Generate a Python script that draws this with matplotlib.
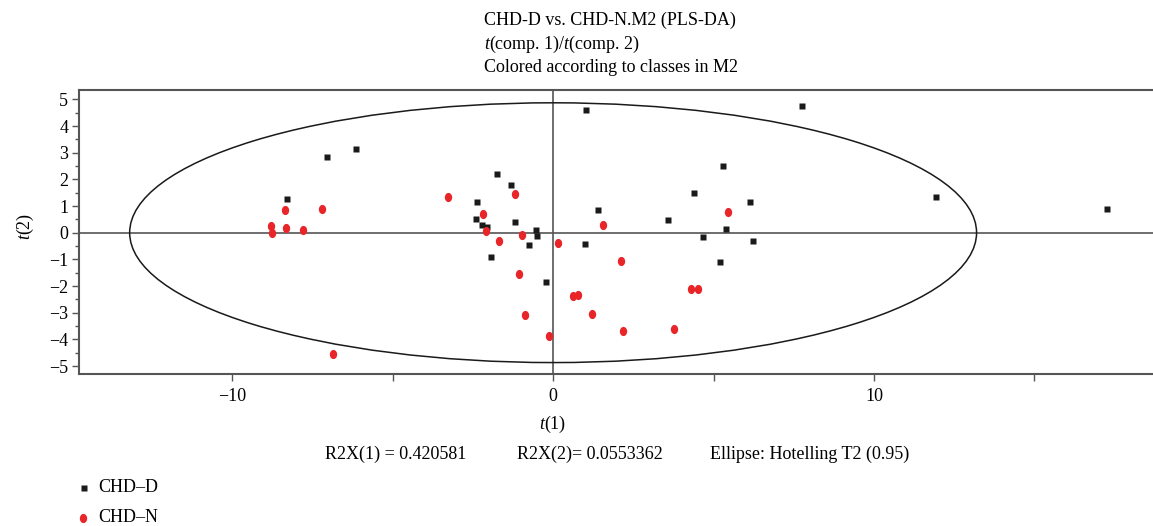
import numpy as np
import matplotlib
matplotlib.use("Agg")
import matplotlib.pyplot as plt
from matplotlib.patches import Ellipse
from matplotlib.path import Path

# ---- data ----
chd_d_t1 = [-7.06, -6.16, -8.30, 1.01, 7.77, -1.76, -1.30, -2.36, -2.39, -2.23, -2.07,
            -1.19, -0.54, -0.49, -0.74, -1.95, -0.21, 0.98, 1.39, 3.59, 4.38, 5.31,
            6.15, 5.40, 4.66, 6.24, 5.21, 11.94, 17.27]
chd_d_t2 = [2.83, 3.13, 1.26, 4.59, 4.74, 2.19, 1.78, 1.14, 0.50, 0.28, 0.21,
            0.39, 0.10, -0.14, -0.47, -0.92, -1.86, -0.43, 0.84, 0.46, 1.48, 2.49,
            1.14, 0.13, -0.17, -0.32, -1.11, 1.33, 0.88]
chd_n_t1 = [-8.80, -8.75, -8.37, -8.34, -7.80, -7.20, -3.29, -6.85, -1.19, -2.20,
            -2.09, -1.68, -0.98, -1.07, -0.87, -0.14, 0.15, 0.62, 0.78, 1.21, 1.54,
            2.12, 2.18, 3.77, 4.29, 4.51, 5.45]
chd_n_t2 = [0.25, 0.00, 0.84, 0.18, 0.10, 0.88, 1.35, -4.55, 1.45, 0.71,
            0.08, -0.31, -0.09, -1.56, -3.09, -3.89, -0.37, -2.39, -2.35, -3.06, 0.29,
            -1.07, -3.70, -3.60, -2.12, -2.10, 0.78]
ellipse_a = 13.2
ellipse_b = 4.87
x_ticks_major = [-10, 0, 10]
x_ticks_minor = [-5, 5, 15]
y_ticks = [-5, -4, -3, -2, -1, 0, 1, 2, 3, 4, 5]
title_lines = ["CHD-D vs. CHD-N.M2 (PLS-DA)",
               r"$\it{t}$(comp. 1)/$\it{t}$(comp. 2)",
               "Colored according to classes in M2"]
class_labels = ["CHD\u2013D", "CHD\u2013N"]

plt.rcParams['font.family'] = ['Liberation Serif', 'DejaVu Serif']
plt.rcParams['mathtext.fontset'] = 'custom'
plt.rcParams['mathtext.it'] = 'Liberation Serif:italic'
plt.rcParams['mathtext.rm'] = 'Liberation Serif'

FS = 13
W, H = 1153, 526
fig = plt.figure(figsize=(W / 100, H / 100), dpi=100)
ax = fig.add_axes([79.3 / W, 1 - 374.3 / H, (1153 - 79.3) / W, (374.3 - 90) / H])

ax.set_xlim(-14.77, 18.7)
ax.set_ylim(-5.31, 5.35)

spine_col = '#555555'
for s in ['left', 'top', 'bottom']:
    ax.spines[s].set_color(spine_col)
    ax.spines[s].set_linewidth(1.5)
ax.spines['right'].set_visible(False)

ax.axhline(0, color=spine_col, lw=1.2, zorder=1)
ax.axvline(0, color=spine_col, lw=1.2, zorder=1)

ell = Ellipse((0, 0), 2 * ellipse_a, 2 * ellipse_b, fill=False, edgecolor='#1a1a1a', lw=1.1, zorder=2)
ax.add_patch(ell)

th = np.linspace(0, 2 * np.pi, 60)
oval = Path(np.column_stack([0.8 * np.cos(th), np.sin(th)]), closed=True)

ax.plot(chd_d_t1, chd_d_t2, ls='none', marker='s', ms=4.6, color='#1a1a1a', mec='none', zorder=3)
ax.plot(chd_n_t1, chd_n_t2, ls='none', marker=oval, ms=6.6, color='#e8262a', mec='none', zorder=4)

ax.set_xticks(x_ticks_major)
ax.set_xticks(x_ticks_minor, minor=True)
ax.set_xticklabels(["\u221210", "0", "10"])
ax.set_yticks(y_ticks)
ax.set_yticklabels([str(v).replace('-', '\u2212') for v in y_ticks])
ax.set_yticks(np.arange(-5, 5.01, 0.5), minor=True)
ax.tick_params(axis='x', which='major', length=5, width=1, color=spine_col, labelsize=FS, pad=5)
ax.tick_params(axis='x', which='minor', length=5, width=1, color=spine_col)
ax.tick_params(axis='y', which='major', length=5, width=1, color=spine_col, labelsize=FS, pad=3)
ax.tick_params(axis='y', which='minor', length=3, width=1, color=spine_col)

fig.text(25 / W, 1 - 226 / H, r"$\it{t}$(2)", rotation=90, ha='center', va='center', fontsize=FS)
fig.text(553 / W, 1 - 424 / H, r"$\it{t}$(1)", ha='center', va='center', fontsize=FS)

for i, line in enumerate(title_lines):
    fig.text(484 / W, 1 - (25 + 23.7 * i) / H, line, ha='left', va='baseline', fontsize=FS)

fig.text(325 / W, 1 - 459 / H, "R2X(1) = 0.420581", ha='left', va='baseline', fontsize=FS)
fig.text(517 / W, 1 - 459 / H, "R2X(2)= 0.0553362", ha='left', va='baseline', fontsize=FS)
fig.text(710 / W, 1 - 459 / H, "Ellipse: Hotelling T2 (0.95)", ha='left', va='baseline', fontsize=FS)

# legend
fig.lines.append(plt.Line2D([84 / W], [1 - 488 / H], transform=fig.transFigure, ls='none',
                            marker='s', ms=4.6, color='#1a1a1a', mec='none'))
fig.lines.append(plt.Line2D([83 / W], [1 - 518 / H], transform=fig.transFigure, ls='none',
                            marker=oval, ms=6.6, color='#e8262a', mec='none'))
fig.text(98 / W, 1 - 488 / H, class_labels[0], ha='left', va='center', fontsize=FS)
fig.text(98 / W, 1 - 517 / H, class_labels[1], ha='left', va='center', fontsize=FS)

fig.savefig("out.png", dpi=100)
